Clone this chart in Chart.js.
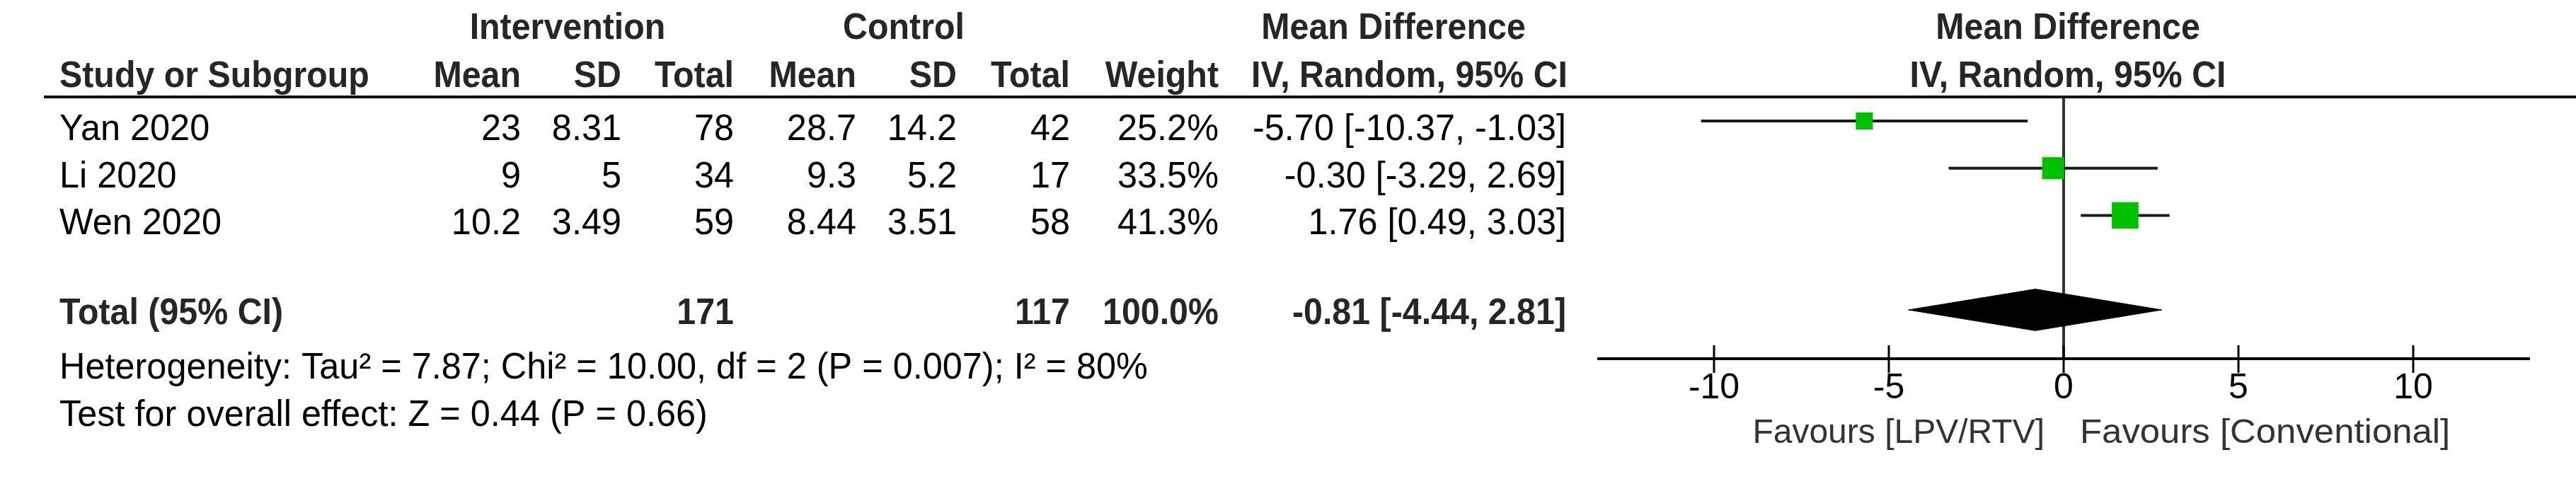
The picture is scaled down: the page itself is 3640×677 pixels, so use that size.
<!DOCTYPE html>
<html>
<head>
<meta charset="utf-8">
<script src="https://cdn.jsdelivr.net/npm/chart.js@4.4.1/dist/chart.umd.min.js"></script>
<style>
  html, body { margin: 0; padding: 0; background: #fff; }
  canvas { display: block; }
</style>
</head>
<body>
<canvas id="forest" width="3640" height="677"></canvas>
<script>
// study data
const studies = ['Yan 2020', 'Li 2020', 'Wen 2020'];
const intMean = [23, 9, 10.2];
const intSD = [8.31, 5, 3.49];
const intTotal = [78, 34, 59];
const ctlMean = [28.7, 9.3, 8.44];
const ctlSD = [14.2, 5.2, 3.51];
const ctlTotal = [42, 17, 58];
const weights = [25.2, 33.5, 41.3];
const md = [-5.70, -0.30, 1.76];
const ciLow = [-10.37, -3.29, 0.49];
const ciHigh = [-1.03, 2.69, 3.03];

// pooled result
const pooled = [-0.81, -4.44, 2.81];   // md, low, high
const pooledTotals = [171, 117];
const hetText = 'Heterogeneity: Tau\u00B2 = 7.87; Chi\u00B2 = 10.00, df = 2 (P = 0.007); I\u00B2 = 80%';
const testText = 'Test for overall effect: Z = 0.44 (P = 0.66)';

const xTicks = [-10, -5, 0, 5, 10];
const xRange = [-13.3, 13.3];
const favours = ['Favours [LPV/RTV]', 'Favours [Conventional]'];

const FONT = '"Liberation Sans", Arial, sans-serif';
const totalRow = studies.length + 1;

function txt(ctx, s, x, y, align, bold, color, size, sx) {
    ctx.save();
    ctx.translate(x, y);
    ctx.scale(sx || (bold ? 0.93 : 0.97), 1);
    ctx.font = (bold ? 'bold ' : '') + (size || 52) + 'px ' + FONT;
    ctx.fillStyle = color || '#000';
    ctx.textAlign = align;
    ctx.textBaseline = 'alphabetic';
    ctx.fillText(s, 0, 0);
    ctx.restore();
}

const tablePlugin = {
    id: 'table',
    afterDraw(chart) {
        const ctx = chart.ctx;
        const xs = chart.scales.x;
        const ys = chart.scales.y;
        const hd = '#262626';

        // header rule
        ctx.fillStyle = '#111';
        ctx.fillRect(62, 135, 3578, 4);

        // headers
        txt(ctx, 'Intervention', 802, 55, 'center', true, hd);
        txt(ctx, 'Control', 1277, 55, 'center', true, hd);
        txt(ctx, 'Mean Difference', 1969, 55, 'center', true, hd);
        txt(ctx, 'Mean Difference', 2922, 55, 'center', true, hd);
        txt(ctx, 'Study or Subgroup', 84, 123, 'left', true, hd);
        txt(ctx, 'Mean', 736, 123, 'right', true, hd);
        txt(ctx, 'SD', 878, 123, 'right', true, hd);
        txt(ctx, 'Total', 1037, 123, 'right', true, hd);
        txt(ctx, 'Mean', 1210, 123, 'right', true, hd);
        txt(ctx, 'SD', 1352, 123, 'right', true, hd);
        txt(ctx, 'Total', 1512, 123, 'right', true, hd);
        txt(ctx, 'Weight', 1722, 123, 'right', true, hd);
        txt(ctx, 'IV, Random, 95% CI', 2215, 123, 'right', true, hd);
        txt(ctx, 'IV, Random, 95% CI', 2922, 123, 'center', true, hd);

        // study rows
        studies.forEach((s, i) => {
            const y = ys.getPixelForValue(i) + 27;
            txt(ctx, s, 84, y, 'left');
            txt(ctx, String(intMean[i]), 736, y, 'right');
            txt(ctx, String(intSD[i]), 878, y, 'right');
            txt(ctx, String(intTotal[i]), 1037, y, 'right');
            txt(ctx, String(ctlMean[i]), 1210, y, 'right');
            txt(ctx, String(ctlSD[i]), 1352, y, 'right');
            txt(ctx, String(ctlTotal[i]), 1512, y, 'right');
            txt(ctx, weights[i].toFixed(1) + '%', 1722, y, 'right');
            txt(ctx, md[i].toFixed(2) + ' [' + ciLow[i].toFixed(2) + ', ' + ciHigh[i].toFixed(2) + ']', 2213, y, 'right');
        });

        // total row
        const ty = ys.getPixelForValue(totalRow) + 20;
        const wSum = weights.reduce((a, b) => a + b, 0);
        txt(ctx, 'Total (95% CI)', 84, ty, 'left', true, hd);
        txt(ctx, String(pooledTotals[0]), 1037, ty, 'right', true, hd);
        txt(ctx, String(pooledTotals[1]), 1512, ty, 'right', true, hd);
        txt(ctx, wSum.toFixed(1) + '%', 1722, ty, 'right', true, hd);
        txt(ctx, pooled[0].toFixed(2) + ' [' + pooled[1].toFixed(2) + ', ' + pooled[2].toFixed(2) + ']', 2213, ty, 'right', true, hd);

        txt(ctx, hetText, 84, 535, 'left');
        txt(ctx, testText, 84, 602, 'left');

        // upper half of tick marks
        const axisY = chart.chartArea.bottom;
        ctx.strokeStyle = '#000';
        ctx.lineWidth = 3;
        xs.ticks.forEach(t => {
            const px = xs.getPixelForValue(t.value);
            ctx.beginPath();
            ctx.moveTo(px, axisY - 19);
            ctx.lineTo(px, axisY);
            ctx.stroke();
        });

        // favours labels
        const zx = xs.getPixelForValue(0);
        txt(ctx, favours[0], zx - 27, 626, 'right', false, '#333', 48, 1);
        txt(ctx, favours[1], zx + 23, 626, 'left', false, '#333', 48, 1.06);
    }
};

const ciSets = studies.map((s, i) => ({
    label: s + ' CI',
    data: [{ x: ciLow[i], y: i }, { x: ciHigh[i], y: i }],
    showLine: true,
    borderColor: '#1a1a1a',
    borderWidth: 4,
    pointRadius: 0,
    order: 2
}));

const squares = {
    label: 'Mean difference',
    data: md.map((v, i) => ({ x: v, y: i })),
    pointStyle: 'rect',
    pointRadius: weights.map(w => (3 + 0.84 * w) / Math.SQRT2),
    pointBackgroundColor: '#00c000',
    pointBorderWidth: 0,
    showLine: false,
    order: 0
};

const diamondH = 0.44;
const diamond = {
    label: 'Total',
    data: [
        { x: pooled[1], y: totalRow },
        { x: pooled[0], y: totalRow - diamondH },
        { x: pooled[2], y: totalRow },
        { x: pooled[0], y: totalRow + diamondH },
        { x: pooled[1], y: totalRow }
    ],
    showLine: true,
    borderColor: '#000',
    borderWidth: 1,
    backgroundColor: '#000',
    fill: 'shape',
    pointRadius: 0,
    tension: 0,
    order: 1
};

new Chart(document.getElementById('forest'), {
    type: 'scatter',
    data: { datasets: [squares, diamond, ...ciSets] },
    options: {
        responsive: false,
        animation: false,
        layout: { padding: { left: 2259, right: 67, top: 137, bottom: 0 } },
        plugins: { legend: { display: false }, tooltip: { enabled: false } },
        scales: {
            x: {
                type: 'linear',
                min: xRange[0],
                max: xRange[1],
                afterBuildTicks: scale => { scale.ticks = xTicks.map(v => ({ value: v })); },
                afterFit: scale => { scale.height = 170; },
                border: { display: true, color: '#000', width: 4 },
                grid: {
                    color: c => (c.tick && c.tick.value === 0 ? '#333' : 'rgba(0,0,0,0)'),
                    lineWidth: 4,
                    drawTicks: true,
                    tickLength: 20,
                    tickColor: '#000',
                    tickWidth: 3
                },
                ticks: {
                    autoSkip: false,
                    maxRotation: 0,
                    padding: -8,
                    color: '#000',
                    font: { family: FONT, size: 50 },
                    callback: v => String(v)
                }
            },
            y: {
                type: 'linear',
                display: false,
                reverse: true,
                min: -0.509,
                max: 5.034
            }
        }
    },
    plugins: [tablePlugin]
});
</script>
</body>
</html>
